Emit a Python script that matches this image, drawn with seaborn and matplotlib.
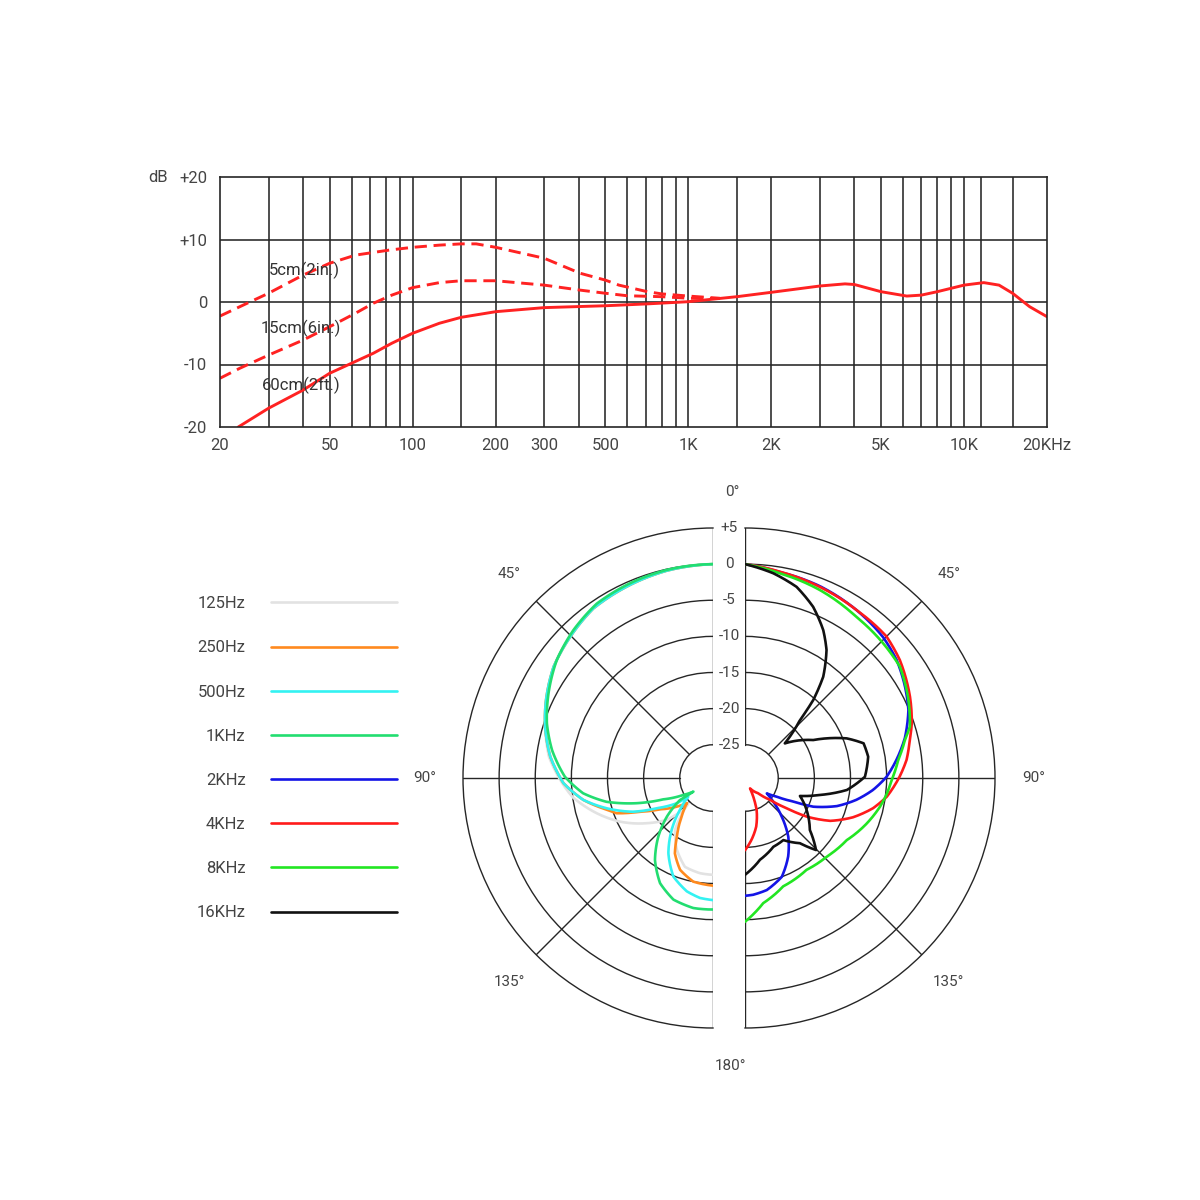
import numpy as np
import pandas as pd
import matplotlib
matplotlib.use("Agg")
import matplotlib.pyplot as plt
import seaborn as sns
from matplotlib.lines import Line2D
from matplotlib.ticker import NullLocator

# ---------------- frequency response data ----------------
freq_60 = [23.3, 30, 40, 50, 60, 72, 84, 100, 125, 150, 200, 300, 500, 710, 1000,
           1500, 2000, 3000, 3700, 4000, 5000, 6200, 7000, 8000, 10000, 11800,
           13400, 15000, 17300, 20000]
db_60 = [-20, -17.0, -14.1, -11.4, -9.8, -8.2, -6.6, -5.0, -3.4, -2.45, -1.55, -0.9,
         -0.6, -0.3, 0.05, 0.85, 1.55, 2.56, 2.9, 2.8, 1.65, 0.95, 1.1, 1.65, 2.7,
         3.1, 2.7, 1.4, -0.75, -2.35]

freq_15 = [20, 23.6, 30, 40, 50, 62, 72, 84, 100, 125, 150, 200, 300, 405, 500, 600,
           800, 1000, 1300]
db_15 = [-12.2, -10.6, -8.5, -6.1, -3.95, -1.8, -0.2, 1.1, 2.3, 3.1, 3.4, 3.4, 2.7,
         1.9, 1.4, 1.0, 0.85, 0.6, 0.55]

freq_5 = [20, 23.6, 30, 40, 50, 62, 82, 100, 125, 150, 170, 200, 300, 405, 500, 560,
          710, 800, 1000, 1300]
db_5 = [-2.25, -0.75, 1.4, 4.3, 6.2, 7.5, 8.3, 8.75, 9.1, 9.3, 9.3, 8.75, 7.0, 4.6,
        3.5, 2.7, 1.65, 1.3, 0.95, 0.6]

grid_freqs = [30, 40, 50, 60, 70, 80, 90, 100, 150, 200, 300, 400, 500, 600, 700,
              800, 900, 1000, 1500, 2000, 3000, 4000, 5000, 6000, 7000, 8000, 9000,
              10000, 11500, 15000]
label_freqs = [20, 50, 100, 200, 300, 500, 1000, 2000, 5000, 10000, 20000]
label_texts = ["20", "50", "100", "200", "300", "500", "1K", "2K", "5K", "10K", "20KHz"]
y_ticks = [-20, -10, 0, 10, 20]
y_texts = ["-20", "-10", "0", "+10", "+20"]

# ---------------- polar data (angle deg, dB) ----------------
# left half
ang_125 = [0, 12.6, 22.9, 35.2, 45.3, 55.1, 65, 73, 82.6, 90, 97.8, 106.9, 115.2,
           124.3, 132.2, 137.1, 135.7, 143.8, 153.2, 162.5, 172.2, 180]
db_125 = [0, -0.2, -0.5, -0.9, -1.8, -2.7, -4.1, -5.3, -6.7, -8.3, -10.0, -12.8,
          -15.4, -18.5, -21.0, -23.6, -24.7, -20.7, -18.5, -16.7, -16.3, -16.2]

ang_250 = [0, 12.6, 22.9, 35.2, 45.3, 55.1, 65, 73, 82.6, 92, 99.6, 105.9, 110.1,
           114.8, 120.6, 128.3, 133.9, 141, 148.3, 153.2, 160.3, 169.2, 180]
db_250 = [0, -0.2, -0.5, -0.87, -1.8, -2.7, -4.1, -5.3, -6.9, -8.9, -11.4, -14.0,
          -15.4, -18.5, -21.1, -23.2, -24.6, -22.7, -20.1, -17.9, -16.1, -15.0, -14.7]

ang_500 = [0, 12.6, 22.9, 35.2, 45.3, 55.1, 65, 73, 82.6, 92, 99.6, 105.9, 112.9,
           118.3, 124.9, 127.1, 134.1, 141.5, 149.3, 158.1, 167, 173.8, 180]
db_500 = [0, -0.2, -0.5, -0.87, -1.8, -2.7, -4.1, -5.3, -6.9, -8.9, -11.4, -14.3,
          -17.6, -20.8, -23.5, -25.3, -23.2, -20.4, -17.5, -14.9, -13.5, -12.9, -12.7]

ang_1k = [0, 12.6, 22.9, 33.7, 43.3, 52.9, 62.8, 71.8, 80.2, 89.5, 96.7, 102.6,
          108.3, 113.2, 119.8, 124.8, 123.7, 129.9, 137, 144.7, 153.3, 162, 171.4, 180]
db_1k = [0, -0.1, -0.3, -0.6, -1.45, -2.5, -4.0, -5.4, -7.0, -9.1, -11.5, -14.5,
         -18.5, -22.1, -24.9, -26.3, -24.1, -21.3, -18.5, -15.7, -13.3, -11.9, -11.4,
         -11.4]

# right half
ang_2k = [0, 9.6, 21.3, 33.6, 44.4, 52.1, 60.3, 67.4, 76, 83.2, 89.5, 95.3, 101.1,
          107, 112.8, 116, 120.5, 125.2, 130, 136.5, 143.6, 151.2, 159.6, 169, 176, 180]
db_2k = [0, -0.7, -1.1, -1.7, -2.3, -3.0, -4.1, -5.1, -6.8, -8.5, -10.0, -11.8,
         -13.9, -16.3, -19.35, -22.2, -24.5, -25.9, -24.5, -22.2, -19.5, -17.2, -15.0,
         -13.8, -13.4, -13.3]

ang_4k = [0, 9.6, 21.4, 33.6, 45, 52.7, 63.8, 71.8, 77, 83.6, 89.5, 97.5, 103.3, 110,
          116.7, 122, 126, 131, 139, 154, 156, 160, 167, 174, 180]
db_4k = [0, -0.65, -1.2, -1.7, -1.9, -2.66, -4.15, -5.3, -6.2, -7.1, -8.2, -9.8,
         -11.4, -13.7, -16.4, -19.5, -22.5, -25.0, -26.8, -28.0, -26.8, -24.9, -22.7,
         -21.0, -19.6]

ang_8k = [0, 9.7, 21.75, 34.7, 45.8, 54.3, 63.5, 72.7, 76.6, 83.3, 90.8, 96.8, 102,
          110.4, 121.4, 133.9, 146.2, 160.6, 171.7, 180]
db_8k = [0, -0.87, -1.6, -2.5, -2.9, -3.2, -4.4, -5.7, -6.85, -8.25, -9.3, -9.9,
         -10.5, -11.6, -13.1, -13.9, -14.3, -13.7, -12.1, -9.7]

ang_16k = [0, 7.9, 15.1, 21.7, 27.9, 32.5, 37.7, 41.2, 43.5, 49, 60.9, 68.7, 73.7,
           80.2, 89.4, 96.7, 102.8, 108.1, 112.1, 117.4, 128.7, 135.4, 139.9, 148.3,
           157.6, 169.6, 180]
db_16k = [0, -1.0, -2.2, -4.1, -6.45, -8.6, -11.9, -15.26, -18.55, -22.3, -18.8,
          -14.5, -12.5, -12.3, -13.0, -15.4, -19.0, -21.6, -20.9, -20.0, -18.1, -15.6,
          -17.8, -19.5, -19.3, -18.1, -16.2]

legend_labels = ["125Hz", "250Hz", "500Hz", "1KHz", "2KHz", "4KHz", "8KHz", "16KHz"]
colors = ["#e2e2e2", "#ff8a1e", "#33f2f2", "#22dd70", "#1414e6", "#ff1a1a",
          "#22e622", "#111111"]
left_series = [(ang_125, db_125), (ang_250, db_250), (ang_500, db_500), (ang_1k, db_1k)]
right_series = [(ang_2k, db_2k), (ang_4k, db_4k), (ang_8k, db_8k), (ang_16k, db_16k)]

scale_vals = [5, 0, -5, -10, -15, -20, -25]
scale_texts = ["+5", "0", "-5", "-10", "-15", "-20", "-25"]

# ---------------- figure ----------------
sns.set_theme(style="white")
plt.rcParams['font.family'] = ['Roboto', 'DejaVu Sans']
TXT = "#444444"
GRID = "#262626"

fig = plt.figure(figsize=(12, 12), dpi=100)
fig.patch.set_facecolor("white")
W = H = 1200.0


def frac(x0, y0, x1, y1):
    return [x0 / W, 1 - y1 / H, (x1 - x0) / W, (y1 - y0) / H]


# ---- top: frequency response ----
ax = fig.add_axes(frac(220, 177, 1047, 427))
ax.set_facecolor("white")
red = "#ff2222"
sns.lineplot(x=freq_5, y=db_5, ax=ax, color=red, lw=2.1, linestyle=(0, (4.2, 2.3)),
             estimator=None, sort=False)
sns.lineplot(x=freq_15, y=db_15, ax=ax, color=red, lw=2.1, linestyle=(0, (4.2, 2.3)),
             estimator=None, sort=False)
sns.lineplot(x=freq_60, y=db_60, ax=ax, color=red, lw=2.1, estimator=None, sort=False)
for ln in ax.lines:
    ln.set_solid_joinstyle("round")
    ln.set_dash_joinstyle("round")
ax.set_xscale("log")
ax.set_xlim(20, 20000)
ax.set_ylim(-20, 20)
for f in grid_freqs:
    ax.axvline(f, color=GRID, lw=1.15, zorder=0.5)
for v in [-10, 0, 10]:
    ax.axhline(v, color=GRID, lw=1.15, zorder=0.5)
ax.xaxis.set_minor_locator(NullLocator())
ax.set_xticks(label_freqs)
ax.set_xticklabels(label_texts)
ax.set_yticks(y_ticks)
ax.set_yticklabels(y_texts)
ax.tick_params(axis="both", length=0, labelsize=12, colors=TXT)
ax.tick_params(axis="x", pad=8)
ax.tick_params(axis="y", pad=9)
ax.set_xlabel("")
ax.set_ylabel("")
for s in ax.spines.values():
    s.set_color(GRID)
    s.set_linewidth(1.2)
ax.annotate("dB", xy=(0, 1), xycoords="axes fraction", xytext=(-62, 0),
            textcoords="offset pixels", ha="center", va="center", fontsize=12,
            color=TXT)
ax.text(30, 5.1, "5cm(2in.)", fontsize=12, color="#333333", va="center", ha="left")
ax.text(28, -4.2, "15cm(6in.)", fontsize=12, color="#333333", va="center", ha="left")
ax.text(28.4, -13.4, "60cm(2ft.)", fontsize=12, color="#333333", va="center",
        ha="left")

# ---- bottom: polar half plots ----
axL = fig.add_axes(frac(338, 528, 838, 1028), projection="polar")
axR = fig.add_axes(frac(620, 528, 1120, 1028), projection="polar")

for a, direction, series, cols in ((axL, 1, left_series, colors[:4]),
                                   (axR, -1, right_series, colors[4:])):
    a.set_facecolor("white")
    a.set_theta_zero_location("N")
    a.set_theta_direction(direction)
    a.set_thetamin(0)
    a.set_thetamax(180)
    for (ang, db), c in zip(series, cols):
        sns.lineplot(x=np.deg2rad(ang), y=db, ax=a, color=c, lw=1.9,
                     estimator=None, sort=False, zorder=3)
        ln = a.lines[-1]
        ln.set_solid_joinstyle("round")
        # let the polar transform draw each segment along (theta, r)
        ln.get_path()._interpolation_steps = 24
    for t in [0, 45, 90, 135, 180]:
        a.plot(np.deg2rad([t, t]), [-25, 5], color=GRID, lw=1.0, zorder=2)
    a.set_xlabel("")
    a.set_ylabel("")
    a.set_xticks([])
    a.set_yticks([-25, -20, -15, -10, -5, 0])
    a.set_yticklabels([])
    a.set_ylim(-29.6, 5)
    a.grid(True, axis="y", color=GRID, lw=1.0)
    a.spines["polar"].set_color(GRID)
    a.spines["polar"].set_linewidth(1.0)
    for sp in ("start", "end", "inner"):
        if sp in a.spines:
            a.spines[sp].set_linewidth(0)
            a.spines[sp].set_edgecolor("none")

# scale labels in the gap
for v, t in zip(scale_vals, scale_texts):
    axR.annotate(t, xy=(0, v), xytext=(-16, 0), textcoords="offset pixels",
                 ha="center", va="center", fontsize=11, color=TXT,
                 annotation_clip=False)

# angle labels
RL = 10.3
axR.annotate("0°", xy=(0, RL), xytext=(-13, -2), textcoords="offset pixels",
             ha="center", va="center", fontsize=11, color=TXT, annotation_clip=False)
axR.annotate("180°", xy=(np.pi, RL), xytext=(-15, 0), textcoords="offset pixels",
             ha="center", va="center", fontsize=11, color=TXT, annotation_clip=False)
for a in (axL, axR):
    for t, lab in ((45, "45°"), (90, "90°"), (135, "135°")):
        a.annotate(lab, xy=(np.deg2rad(t), RL), ha="center", va="center",
                   fontsize=11, color=TXT, annotation_clip=False)

# legend
handles = [Line2D([0], [0], color=c, lw=1.9) for c in colors]
fig.legend(handles, legend_labels, loc="center", bbox_to_anchor=(0.2475, 0.368),
           frameon=False, markerfirst=False, handlelength=7.6, handletextpad=1.5,
           labelspacing=1.75, fontsize=12, labelcolor=TXT)

fig.savefig("out.png", dpi=100, facecolor="white")
